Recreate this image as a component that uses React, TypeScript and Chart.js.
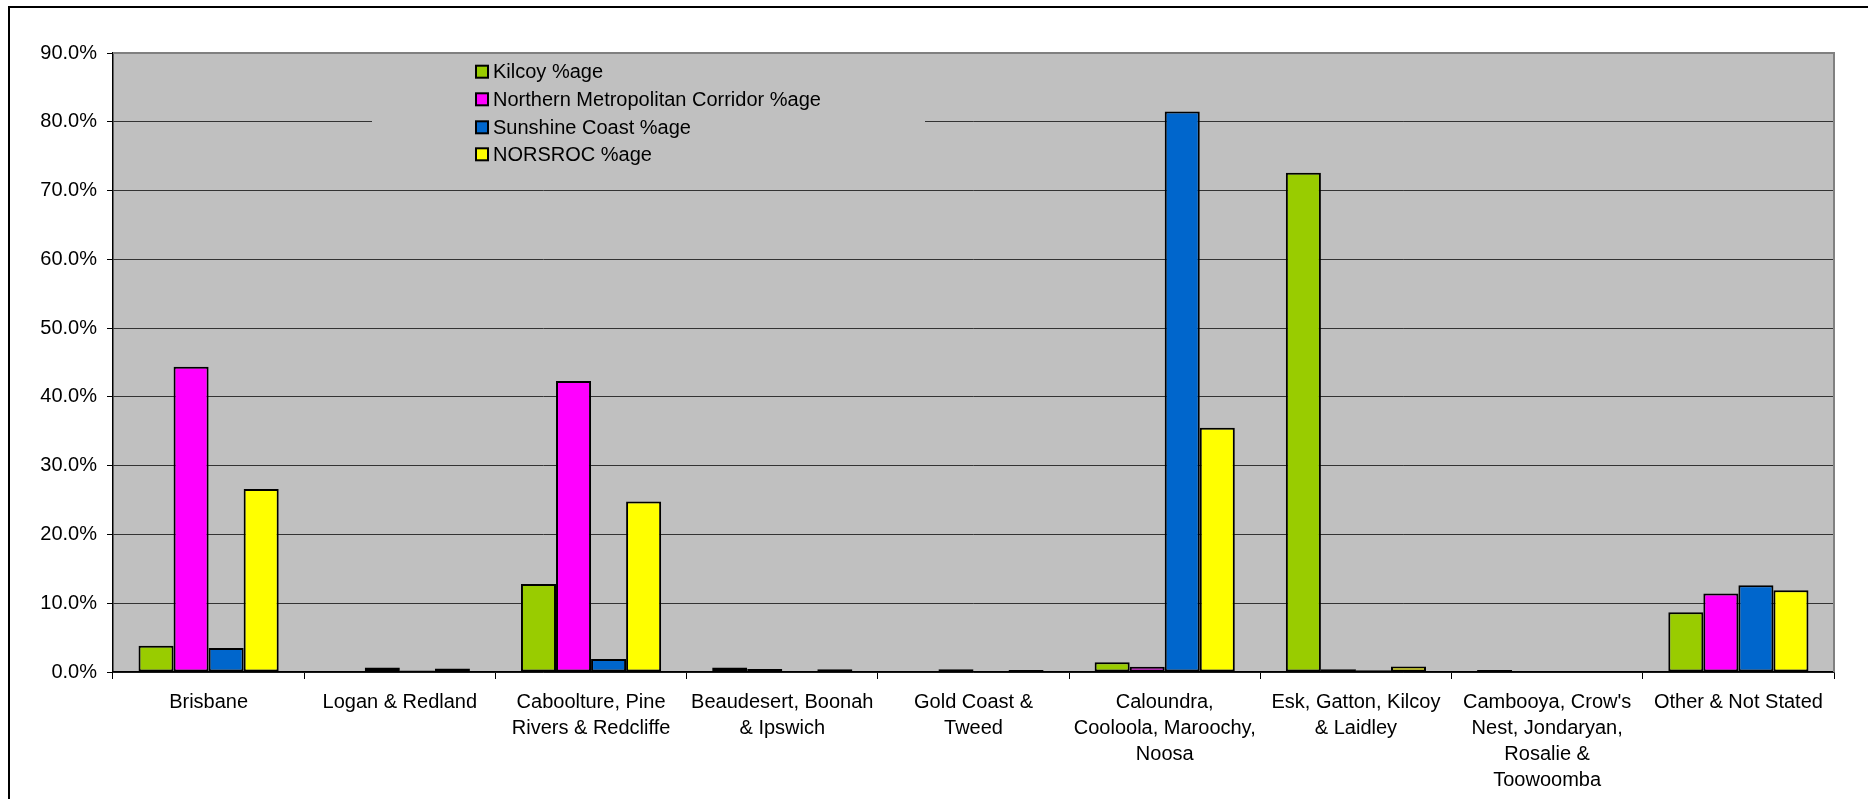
import React, { useEffect, useRef } from "react";
import { Chart, registerables } from "chart.js";

Chart.register(...registerables);

const categories: (string | string[])[] = [
  "Brisbane",
  "Logan & Redland",
  ["Caboolture, Pine", "Rivers & Redcliffe"],
  ["Beaudesert, Boonah", "& Ipswich"],
  ["Gold Coast &", "Tweed"],
  ["Caloundra,", "Cooloola, Maroochy,", "Noosa"],
  ["Esk, Gatton, Kilcoy", "& Laidley"],
  ["Cambooya, Crow's", "Nest, Jondaryan,", "Rosalie &", "Toowoomba"],
  "Other & Not Stated",
];

const seriesNames = [
  "Kilcoy %age",
  "Northern Metropolitan Corridor %age",
  "Sunshine Coast %age",
  "NORSROC %age",
];

const kilcoy = [3.8, 0, 12.8, 0.65, 0, 1.4, 72.6, 0.3, 8.7];
const northernMetro = [44.4, 0.65, 42.3, 0.45, 0.4, 0.75, 0.4, 0.1, 11.4];
const sunshineCoast = [3.5, 0.2, 1.9, 0, 0.15, 81.5, 0.25, 0.1, 12.6];
const norsroc = [26.6, 0.5, 24.8, 0.4, 0.3, 35.5, 0.8, 0.1, 11.9];

const seriesColors = ["#99CC00", "#FF00FF", "#0066CC", "#FFFF00"];

const yMin = 0;
const yMax = 90;
const yStep = 10;

const FONT_FAMILY = "'Liberation Sans', Arial, Helvetica, sans-serif";

const W = 1868;
const H = 799;

export default function App() {
  const ref = useRef<HTMLCanvasElement | null>(null);

  useEffect(() => {
    const canvas = ref.current;
    if (!canvas) return;

    const bgPlugin = {
      id: "bgPlugin",
      beforeDraw(chart: any) {
        const { ctx, chartArea } = chart;
        ctx.save();
        ctx.fillStyle = "#ffffff";
        ctx.fillRect(0, 0, chart.width, chart.height);
        // outer frame (left and top)
        ctx.fillStyle = "#000000";
        ctx.fillRect(8, 6, 2, chart.height - 6);
        ctx.fillRect(8, 6, chart.width - 8, 2);
        // plot background
        ctx.fillStyle = "#C0C0C0";
        ctx.fillRect(
          chartArea.left,
          chartArea.top,
          chartArea.right - chartArea.left,
          chartArea.bottom - chartArea.top
        );
        ctx.restore();
      },
      beforeDatasetsDraw(chart: any) {
        const { ctx } = chart;
        ctx.save();
        // legend box (no border) hides gridlines
        ctx.fillStyle = "#C0C0C0";
        ctx.fillRect(372, 58, 553, 112);
        const rowsY = [71.7, 99.3, 127.3, 154.3];
        ctx.font = `20px ${FONT_FAMILY}`;
        ctx.textBaseline = "middle";
        ctx.textAlign = "left";
        chart.data.datasets.forEach((ds: any, i: number) => {
          const y = rowsY[i];
          ctx.fillStyle = "#000000";
          ctx.fillRect(475, y - 7, 14, 14);
          ctx.fillStyle = ds.backgroundColor;
          ctx.fillRect(477, y - 5, 10, 10);
          ctx.fillStyle = "#000000";
          ctx.fillText(ds.label, 493, y + 1);
        });
        ctx.restore();
      },
      afterDraw(chart: any) {
        const { ctx, chartArea } = chart;
        ctx.save();
        ctx.strokeStyle = "#808080";
        ctx.lineWidth = 2;
        ctx.beginPath();
        ctx.moveTo(chartArea.left, chartArea.top);
        ctx.lineTo(chartArea.right, chartArea.top);
        ctx.lineTo(chartArea.right, chartArea.bottom);
        ctx.stroke();
        ctx.restore();
      },
    };

    const values = [kilcoy, northernMetro, sunshineCoast, norsroc];

    const chart = new Chart(canvas, {
      type: "bar",
      data: {
        labels: categories,
        datasets: values.map((v, i) => ({
          label: seriesNames[i],
          data: v,
          backgroundColor: seriesColors[i],
          borderColor: "#000000",
          borderWidth: 2,
          borderSkipped: false,
          categoryPercentage: 0.733,
          barPercentage: 1.0,
        })),
      },
      options: {
        responsive: false,
        animation: false,
        devicePixelRatio: 1,
        layout: { padding: { top: 53, right: 34, left: 0, bottom: 0 } },
        plugins: {
          legend: { display: false },
          tooltip: { enabled: false },
        },
        scales: {
          x: {
            grid: {
              display: true,
              drawOnChartArea: false,
              drawTicks: true,
              tickLength: 7,
              color: "#000000",
              offset: true,
            },
            border: { color: "#000000", width: 1.5 },
            ticks: {
              font: { family: FONT_FAMILY, size: 20, lineHeight: 1.3 },
              color: "#000000",
              padding: 10,
              maxRotation: 0,
              minRotation: 0,
              autoSkip: false,
            },
            afterFit: (s: any) => {
              s.height = 127;
            },
          },
          y: {
            min: yMin,
            max: yMax,
            ticks: {
              stepSize: yStep,
              callback: (v: any) => Number(v).toFixed(1) + "%",
              font: { family: FONT_FAMILY, size: 20 },
              color: "#000000",
              padding: 10,
            },
            grid: {
              color: "#333333",
              lineWidth: 1,
              tickLength: 6,
              tickColor: "#000000",
            },
            border: { color: "#000000", width: 1.5 },
            afterFit: (s: any) => {
              s.width = 113;
            },
          },
        },
      },
      plugins: [bgPlugin],
    } as any);

    return () => chart.destroy();
  }, []);

  return (
    <canvas
      ref={ref}
      width={W}
      height={H}
      style={{ position: "fixed", left: 0, top: 0, width: W, height: H, display: "block" }}
    />
  );
}
